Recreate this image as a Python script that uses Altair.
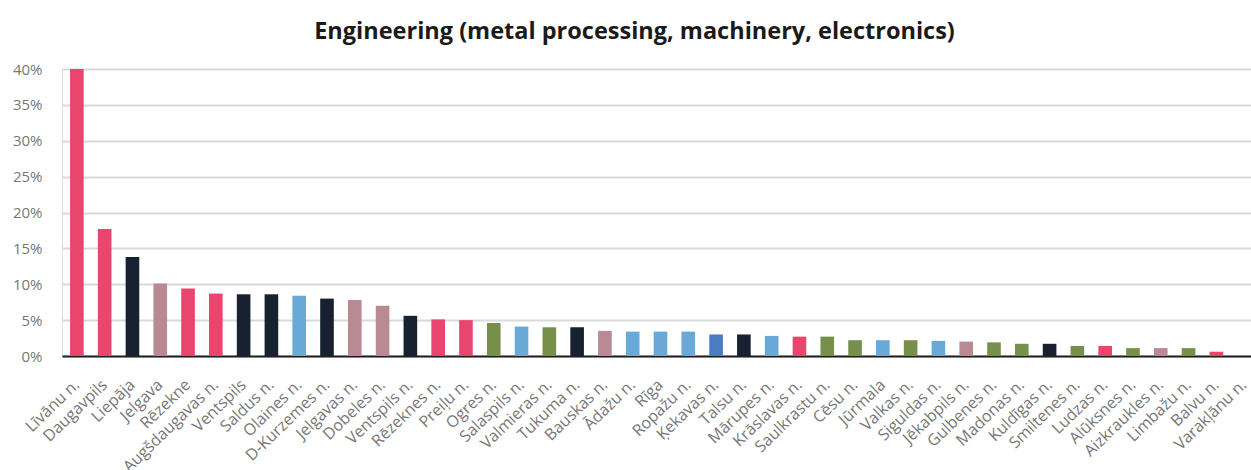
import altair as alt
import pandas as pd

# Share of engineering (metal processing, machinery, electronics) by municipality
municipalities = [
    "Līvānu n.", "Daugavpils", "Liepāja", "Jelgava", "Rēzekne", "Augšdaugavas n.",
    "Ventspils", "Saldus n.", "Olaines n.", "D-Kurzemes n.", "Jelgavas n.", "Dobeles n.",
    "Ventspils n.", "Rēzeknes n.", "Preiļu n.", "Ogres n.", "Salaspils n.", "Valmieras n.",
    "Tukuma n.", "Bauskas n.", "Ādažu n.", "Rīga", "Ropažu n.", "Ķekavas n.", "Talsu n.",
    "Mārupes n.", "Krāslavas n.", "Saulkrastu n.", "Cēsu n.", "Jūrmala", "Valkas n.",
    "Siguldas n.", "Jēkabpils n.", "Gulbenes n.", "Madonas n.", "Kuldīgas n.",
    "Smiltenes n.", "Ludzas n.", "Alūksnes n.", "Aizkraukles n.", "Limbažu n.",
    "Balvu n.", "Varakļānu n.",
]

shares = [
    0.400, 0.177, 0.138, 0.101, 0.094, 0.087,
    0.086, 0.086, 0.084, 0.080, 0.078, 0.070,
    0.056, 0.051, 0.050, 0.046, 0.041, 0.040,
    0.040, 0.035, 0.034, 0.034, 0.034, 0.030, 0.030,
    0.028, 0.027, 0.027, 0.022, 0.022, 0.022,
    0.021, 0.020, 0.019, 0.017, 0.017,
    0.014, 0.014, 0.011, 0.011, 0.011,
    0.006, 0.0,
]

regions = [
    "Latgale", "Latgale", "Kurzeme", "Zemgale", "Latgale", "Latgale",
    "Kurzeme", "Kurzeme", "Riga", "Kurzeme", "Zemgale", "Zemgale",
    "Kurzeme", "Latgale", "Latgale", "Vidzeme", "Riga", "Vidzeme",
    "Kurzeme", "Zemgale", "Riga", "Riga", "Riga", "Highlight", "Kurzeme",
    "Riga", "Latgale", "Vidzeme", "Vidzeme", "Riga", "Vidzeme",
    "Riga", "Zemgale", "Vidzeme", "Vidzeme", "Kurzeme",
    "Vidzeme", "Latgale", "Vidzeme", "Zemgale", "Vidzeme",
    "Latgale", "Latgale",
]

region_names = ["Latgale", "Kurzeme", "Zemgale", "Riga", "Vidzeme", "Highlight"]
region_colors = ["#E8456F", "#18212F", "#B98A93", "#68A9D8", "#76904B", "#4A7CC1"]

tick_values = [0, 0.05, 0.10, 0.15, 0.20, 0.25, 0.30, 0.35, 0.40]

df = pd.DataFrame({"municipality": municipalities, "share": shares, "region": regions})

FONT = "Open Sans"

chart = (
    alt.Chart(df)
    .mark_bar()
    .encode(
        x=alt.X(
            "municipality:N",
            sort=municipalities,
            title=None,
            scale=alt.Scale(range=[0, 1197], paddingInner=0.51, paddingOuter=0.29),
            axis=alt.Axis(
                labelAngle=-44,
                labelAlign="right",
                labelBaseline="middle",
                labelPadding=26,
                labelFontSize=16,
                labelColor="#777777",
                labelFont=FONT,
                ticks=False,
                domain=True,
                domainColor="#1f1f1f",
                domainWidth=2,
                labelOverlap=False,
            ),
        ),
        y=alt.Y(
            "share:Q",
            title=None,
            scale=alt.Scale(domain=[0, 0.40], nice=False),
            axis=alt.Axis(
                values=tick_values,
                format=".0%",
                labelFontSize=15,
                labelColor="#777777",
                labelFont=FONT,
                labelPadding=20,
                ticks=False,
                domain=False,
                grid=True,
                gridColor="#d9d9d9",
                gridWidth=2,
            ),
        ),
        color=alt.Color(
            "region:N",
            scale=alt.Scale(domain=region_names, range=region_colors),
            legend=None,
        ),
    )
    .properties(
        width=1189,
        height=287,
        title=alt.TitleParams(
            "Engineering (metal processing, machinery, electronics)",
            font=FONT,
            fontSize=23.5,
            fontWeight="bold",
            color="#1a1a1a",
            offset=19,
            dx=-22,
        ),
        autosize=alt.AutoSizeParams(type="none"),
        padding={"left": 62, "top": 69, "right": 0, "bottom": 114},
    )
    .configure_view(stroke=None)
    .configure(background="white")
)

chart.save("out.html", embed_options={"renderer": "svg", "actions": False})
